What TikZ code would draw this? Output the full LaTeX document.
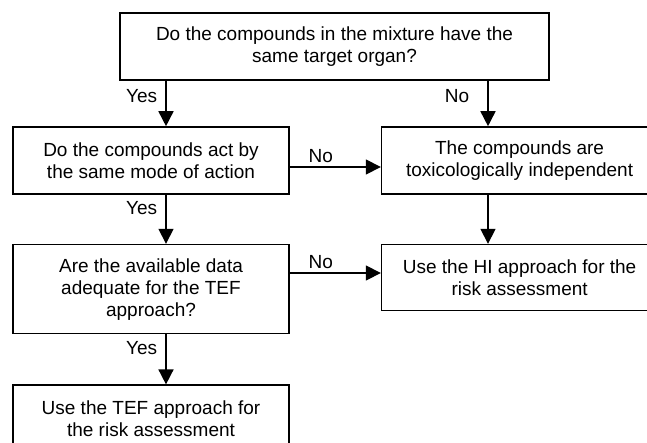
\documentclass[tikz,border=0pt]{standalone}
\usepackage{fontspec}
\setmainfont{Liberation Sans}
\usetikzlibrary{arrows.meta,positioning}
\tikzset{
box/.style={draw,line width=1.6pt,align=center,minimum width=276pt,minimum height=67pt,inner sep=0pt,font=\fontsize{19}{22}\selectfont},
arrow/.style={-{Triangle[length=15pt,width=15pt]},line width=1.6pt},
lbl/.style={font=\fontsize{19}{22}\selectfont,inner sep=0pt}
}

\begin{document}
\begin{tikzpicture}[x=1pt,y=-1pt,node distance=49pt and 91pt]
\clip (0,0) rectangle (647,442);
\node[box,minimum width=429pt] (organ) at (334.5,46.5) {Do the compounds in the mixture have the\\same target organ?};
\node[box] (mode) at (151,160.5) {Do the compounds act by\\the same mode of action};
\node[box,right=of mode] (indep) {The compounds are\\toxicologically independent};
\node[box,below=of mode,minimum height=89pt] (data) {Are the available data\\adequate for the TEF\\approach?};
\node[box,below=of indep,minimum height=66pt] (hi) {Use the HI approach for the\\risk assessment};
\node[box,below=50pt of data] (tef) {Use the TEF approach for\\the risk assessment};

\coordinate (lcol) at (166,0);
\coordinate (rcol) at (488,0);
\coordinate (row1) at (0,167);
\coordinate (row2) at (0,273);

\draw[arrow](organ.south -| lcol)--(mode.north -| lcol) node[lbl,pos=.34,left=8pt]{Yes};
\draw[arrow](organ.south -| rcol)--(indep.north -| rcol) node[lbl,pos=.34,left=18pt]{No};
\draw[arrow](mode.east |- row1)--(indep.west |- row1) node[lbl,pos=.34,above=4pt]{No};
\draw[arrow](mode.south -| lcol)--(data.north -| lcol) node[lbl,pos=.27,left=8pt]{Yes};
\draw[arrow](indep.south -| rcol)--(hi.north -| rcol);
\draw[arrow](data.east |- row2)--(hi.west |- row2) node[lbl,pos=.34,above=4pt]{No};
\draw[arrow](data.south -| lcol)--(tef.north -| lcol) node[lbl,pos=.27,left=8pt]{Yes};
\end{tikzpicture}
\end{document}
